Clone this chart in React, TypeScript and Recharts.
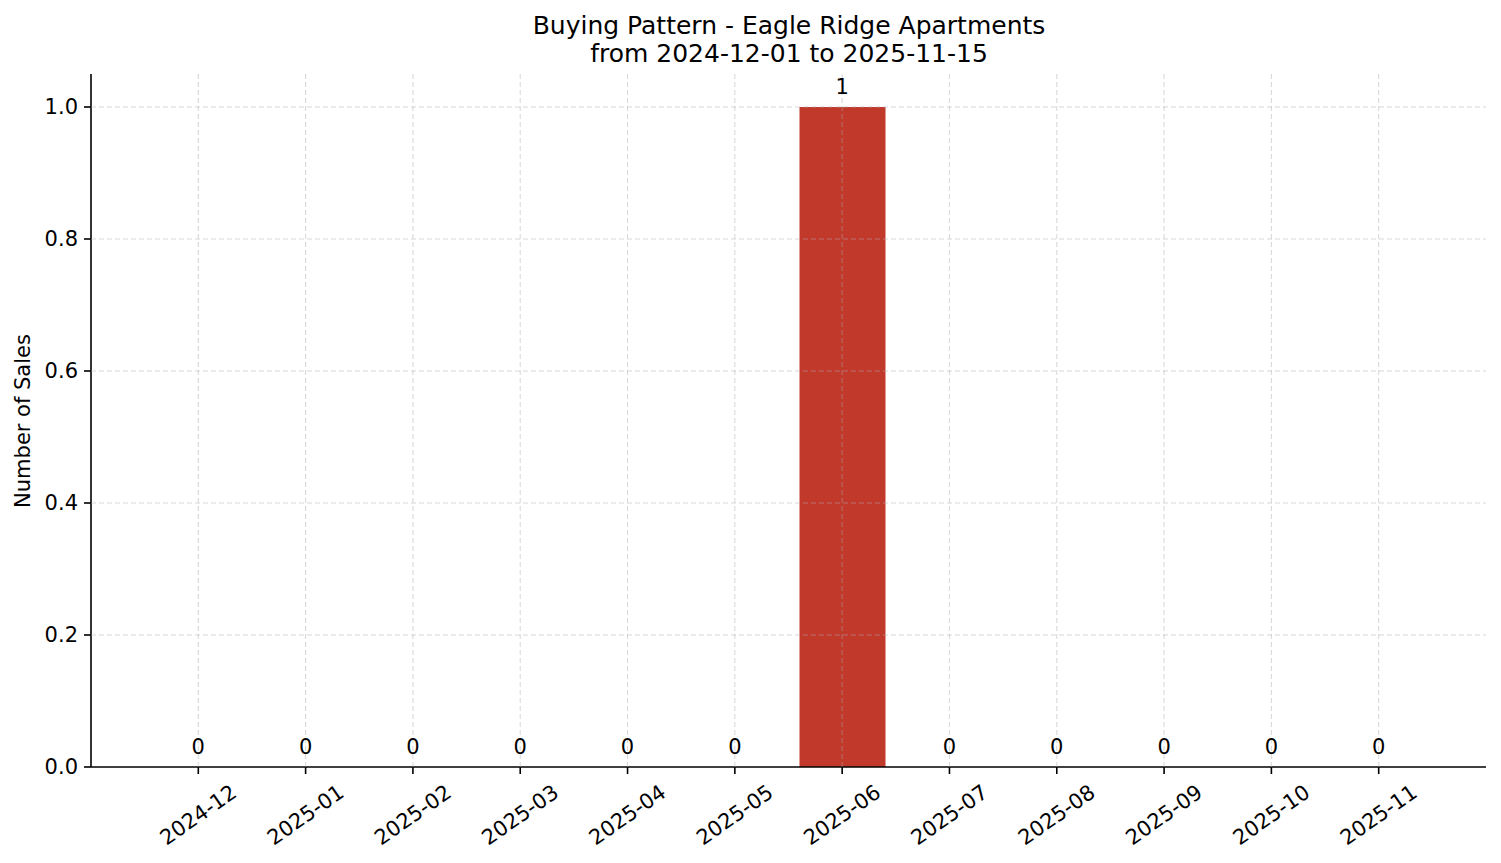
import React from "react"
import {
  ComposedChart, Bar, Line, XAxis, YAxis, CartesianGrid, LabelList,
} from "recharts"

const MONTHS = [
  "2024-12", "2025-01", "2025-02", "2025-03", "2025-04", "2025-05",
  "2025-06", "2025-07", "2025-08", "2025-09", "2025-10", "2025-11",
]
const SALES = [0, 0, 0, 0, 0, 0, 1, 0, 0, 0, 0, 0]
const Y_TICKS = [0, 0.2, 0.4, 0.6, 0.8, 1.0]
const X_TICKS = MONTHS.map((_, i) => i)

const TITLE = "Buying Pattern - Eagle Ridge Apartments"
const SUBTITLE = "from 2024-12-01 to 2025-11-15"
const Y_LABEL = "Number of Sales"

const data = MONTHS.map((m, i) => ({ idx: i, month: m, sales: SALES[i] }))

const FONT = "DejaVu Sans, sans-serif"
const BAR_COLOR = "#c0392b"

function MonthTick(props: any) {
  const { x, y, payload } = props
  return (
    <g transform={`translate(${x},${y + 41})`}>
      <text
        transform="rotate(-35)"
        textAnchor="middle"
        dominantBaseline="central"
        fontFamily={FONT}
        fontSize={21}
        fill="#000"
      >
        {MONTHS[payload.value]}
      </text>
    </g>
  )
}

export default function App() {
  return (
    <div style={{ position: "absolute", left: 0, top: 0, width: 1501, height: 863, background: "#fff" }}>
      <ComposedChart
        width={1501}
        height={863}
        data={data}
        margin={{ top: 74, right: 15, bottom: 0, left: 0 }}
        style={{ fontFamily: FONT }}
      >
        <CartesianGrid
          zIndex={1000}
          stroke="#b0b0b0"
          strokeOpacity={0.5}
          strokeWidth={1}
          strokeDasharray="5 3"
          horizontalValues={Y_TICKS.filter(v => v > 0)}
          verticalValues={X_TICKS}
        />
        <XAxis
          type="number"
          dataKey="idx"
          domain={[-1, 12]}
          ticks={X_TICKS}
          interval={0}
          allowDataOverflow
          height={96}
          tickSize={7}
          tickMargin={0}
          axisLine={{ stroke: "#000", strokeWidth: 1.6 }}
          tickLine={{ stroke: "#000", strokeWidth: 1.6 }}
          tick={<MonthTick />}
        />
        <YAxis
          type="number"
          domain={[0, 1.05]}
          ticks={Y_TICKS}
          allowDataOverflow
          width={91}
          tickSize={7}
          tickMargin={6}
          axisLine={{ stroke: "#000", strokeWidth: 1.6 }}
          tickLine={{ stroke: "#000", strokeWidth: 1.6 }}
          tick={{ fill: "#000", fontSize: 21, fontFamily: FONT }}
          tickFormatter={(v: number) => v.toFixed(1)}
        />
        <Bar dataKey="sales" fill={BAR_COLOR} barSize={86} isAnimationActive={false} />
        {/* invisible line only carries the value labels, zero bars get none */}
        <Line
          dataKey="sales"
          stroke="none"
          dot={false}
          activeDot={false}
          isAnimationActive={false}
        >
          <LabelList
            dataKey="sales"
            position="top"
            offset={13}
            style={{ fill: "#000", fontSize: 21, fontFamily: FONT }}
          />
        </Line>
      </ComposedChart>
      <svg
        width={1501}
        height={863}
        style={{ position: "absolute", left: 0, top: 0, pointerEvents: "none" }}
      >
        <text x={789} y={34} textAnchor="middle" fontFamily={FONT} fontSize={25} fill="#000">
          {TITLE}
        </text>
        <text x={789} y={62} textAnchor="middle" fontFamily={FONT} fontSize={25} fill="#000">
          {SUBTITLE}
        </text>
        <text
          transform="translate(30,421) rotate(-90)"
          textAnchor="middle"
          fontFamily={FONT}
          fontSize={21}
          fill="#000"
        >
          {Y_LABEL}
        </text>
      </svg>
    </div>
  )
}
